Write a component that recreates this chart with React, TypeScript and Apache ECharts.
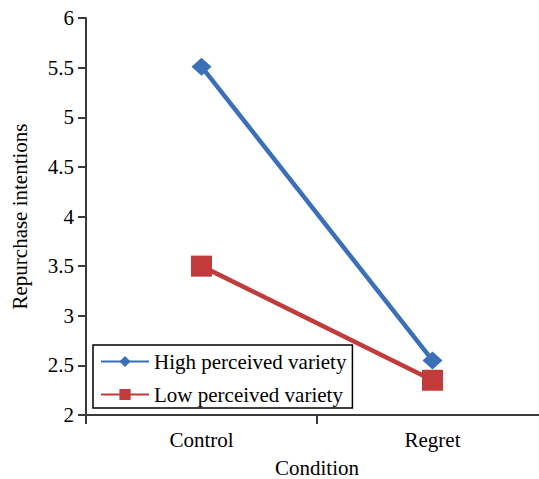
import React, { useEffect, useRef } from "react";
import * as echarts from "echarts";

const categories = ["Control", "Regret"];
const highVariety = [5.51, 2.55];
const lowVariety = [3.5, 2.35];
const seriesNames = ["High perceived variety", "Low perceived variety"];
const yTicks = { min: 2, max: 6, interval: 0.5 };

const FONT = "'Liberation Serif', 'Times New Roman', serif";
const BLUE = "#3b6fb7";
const RED = "#c23b3b";
const AXIS = "#3a3a3a";

export default function App() {
  const ref = useRef<HTMLDivElement>(null);
  useEffect(() => {
    if (!ref.current) return;
    const chart = echarts.init(ref.current, undefined, { renderer: "svg" });
    chart.setOption({
      animation: false,
      backgroundColor: "#ffffff",
      textStyle: { fontFamily: FONT },
      grid: {
        left: 86,
        top: 18,
        width: 462,
        height: 397,
        containLabel: false,
        outerBoundsMode: "none",
      },
      legend: {
        orient: "vertical",
        left: 93,
        top: 345,
        data: seriesNames,
        itemWidth: 48,
        itemHeight: 14,
        itemGap: 12,
        padding: [6, 6, 3, 7],
        borderColor: "#000",
        borderWidth: 1.5,
        backgroundColor: "#fff",
        textStyle: { fontFamily: FONT, fontSize: 21, color: "#000" },
      },
      xAxis: {
        type: "category",
        data: categories,
        boundaryGap: true,
        name: "Condition",
        nameLocation: "middle",
        nameGap: 42,
        nameTextStyle: { fontFamily: FONT, fontSize: 21, lineHeight: 21, color: "#000" },
        axisLine: { lineStyle: { color: AXIS, width: 2 } },
        axisTick: { show: true, length: 9, lineStyle: { color: AXIS, width: 2 } },
        axisLabel: { margin: 14, fontFamily: FONT, fontSize: 21, color: "#000" },
        splitLine: { show: false },
      },
      yAxis: {
        type: "value",
        min: yTicks.min,
        max: yTicks.max,
        interval: yTicks.interval,
        name: "Repurchase intentions",
        nameLocation: "middle",
        nameGap: 56,
        nameTextStyle: { fontFamily: FONT, fontSize: 21, color: "#000" },
        axisLine: { show: true, lineStyle: { color: AXIS, width: 2 } },
        axisTick: { show: true, length: 8, lineStyle: { color: AXIS, width: 2 } },
        axisLabel: { margin: 12, fontFamily: FONT, fontSize: 21, color: "#000" },
        splitLine: { show: false },
      },
      series: [
        {
          name: seriesNames[0],
          type: "line",
          data: highVariety,
          symbol: "diamond",
          symbolSize: [20, 18],
          lineStyle: { color: BLUE, width: 4.5 },
          itemStyle: { color: BLUE },
          z: 3,
        },
        {
          name: seriesNames[1],
          type: "line",
          data: lowVariety,
          symbol: "rect",
          symbolSize: 21,
          lineStyle: { color: RED, width: 4.5 },
          itemStyle: { color: RED },
          z: 2,
        },
      ],
    });
    return () => chart.dispose();
  }, []);
  return (
    <div
      ref={ref}
      style={{ position: "fixed", left: 0, top: 0, width: 539, height: 479 }}
    />
  );
}
